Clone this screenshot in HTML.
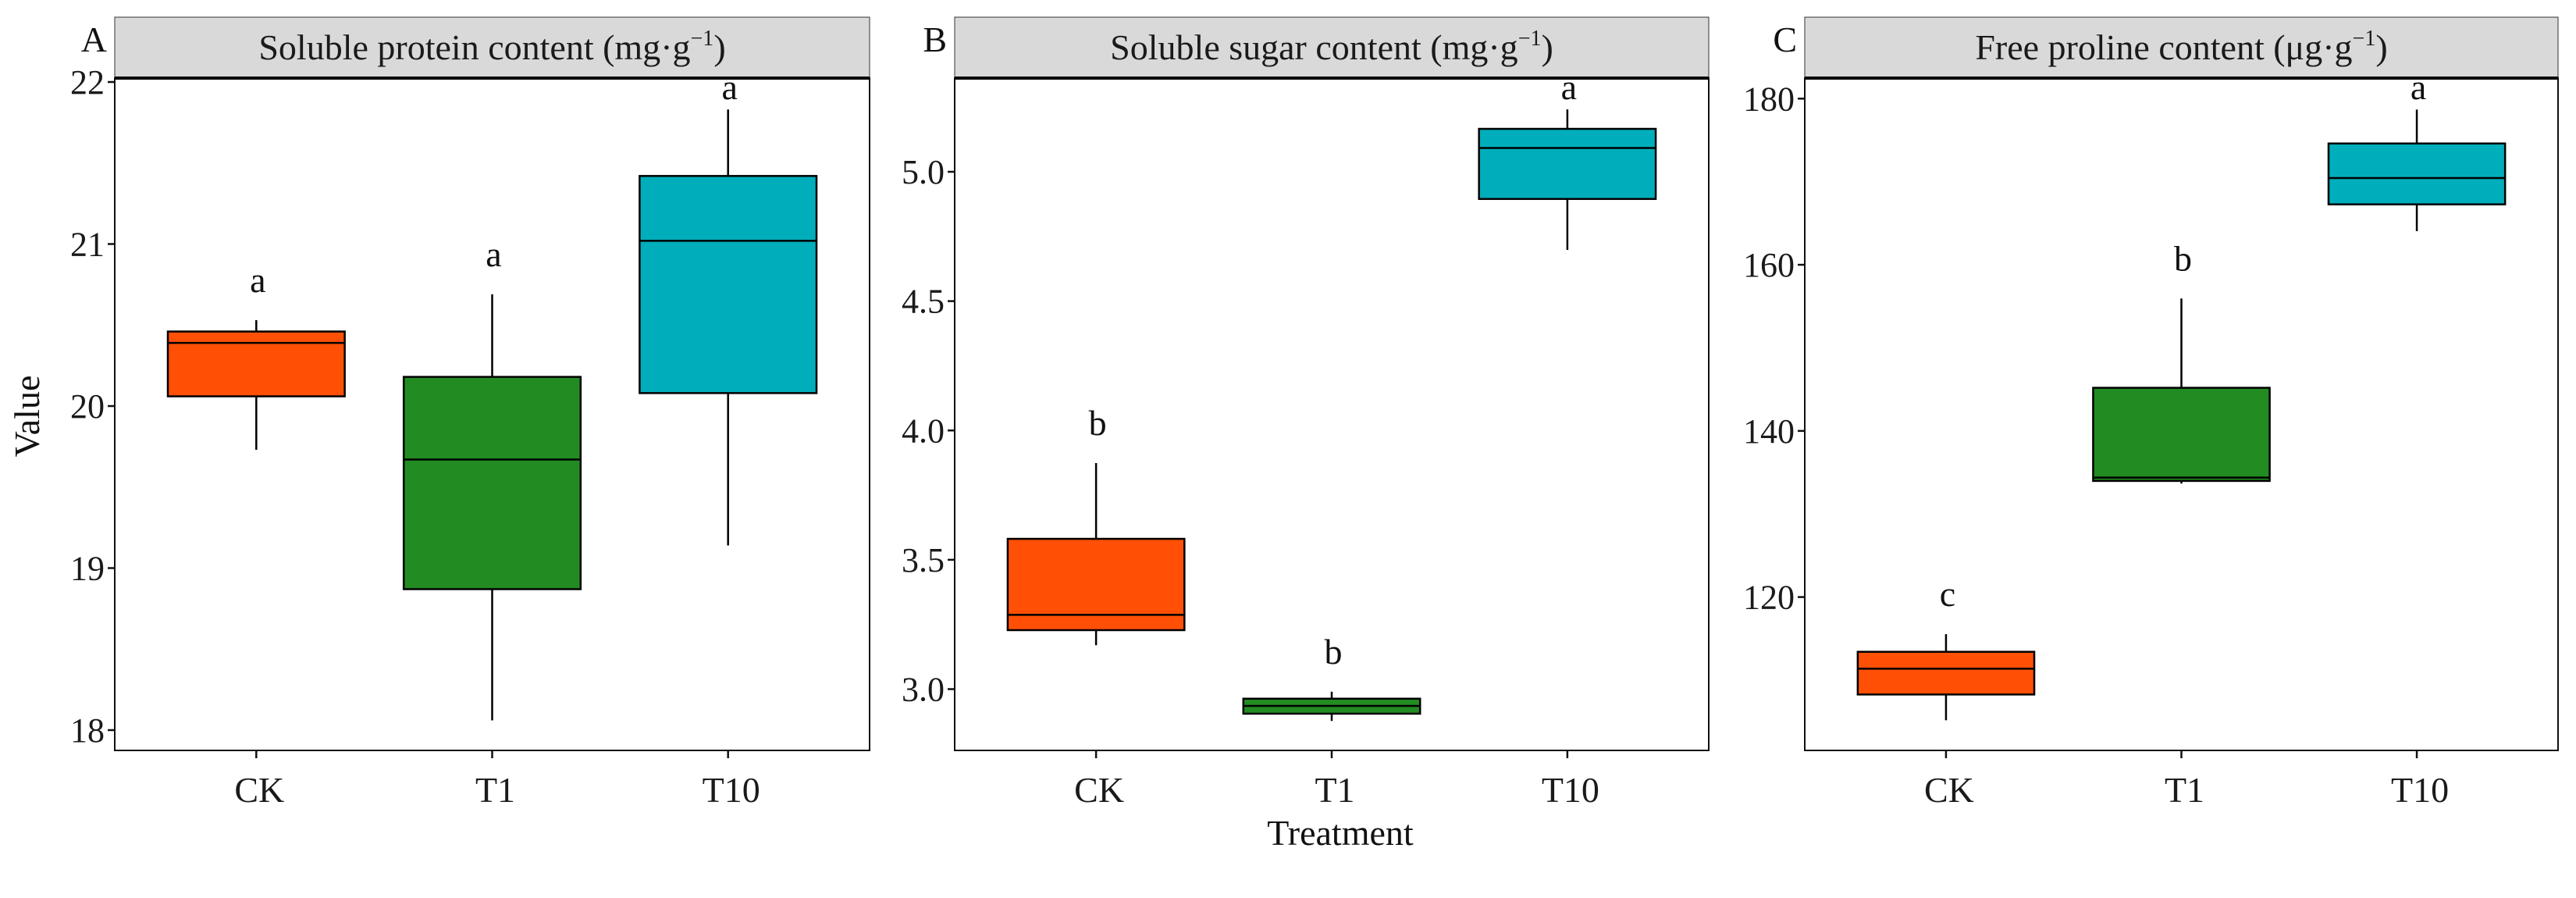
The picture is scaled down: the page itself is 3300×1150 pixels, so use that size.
<!DOCTYPE html>
<html><head><meta charset="utf-8"><style>
html,body{margin:0;padding:0;background:#fff}
svg{display:block;font-family:"Liberation Serif",serif}
</style></head><body>
<svg id="chart" width="3300" height="1150" viewBox="0 0 3300 1150" xmlns="http://www.w3.org/2000/svg"></svg>
<script>
const categories = ["CK","T1","T10"];
const colors = ["#FF5005","#228B22","#00AEBB"];
const titles = ["Soluble protein content (mg·g", "Soluble sugar content (mg·g", "Free proline content (μg·g"];
const panelLetters = ["A","B","C"];
// [lowWhisker, q1, median, q3, highWhisker] per category
const proteinStats = [[19.73,20.06,20.39,20.46,20.53],[18.06,18.87,19.67,20.18,20.69],[19.14,20.08,21.02,21.42,21.83]];
const sugarStats = [[3.170,3.228,3.287,3.581,3.874],[2.877,2.905,2.935,2.963,2.99],[4.698,4.895,5.092,5.166,5.241]];
const prolineStats = [[105.17,108.27,111.37,113.41,115.53],[133.66,133.98,134.38,145.19,155.94],[164.05,167.27,170.44,174.6,178.68]];
const proteinLetters = ["a","a","a"];
const sugarLetters = ["b","b","a"];
const prolineLetters = ["c","b","a"];
const proteinTicks = [18,19,20,21,22];
const sugarTicks = ["3.0","3.5","4.0","4.5","5.0"];
const prolineTicks = [120,140,160,180];

const NS="http://www.w3.org/2000/svg";
const svg=document.getElementById('chart');
function el(tag,attrs,parent){const e=document.createElementNS(NS,tag);for(const k in attrs)e.setAttribute(k,attrs[k]);(parent||svg).appendChild(e);return e;}

const panels=[
 {left:147,right:1114,stats:proteinStats,letters:proteinLetters,ticks:proteinTicks,v0:22,p0:105,v1:18,p1:935,name:"protein"},
 {left:1223,right:2189,stats:sugarStats,letters:sugarLetters,ticks:sugarTicks,v0:5,p0:220,v1:3,p1:882.5,name:"sugar"},
 {left:2312,right:3277,stats:prolineStats,letters:prolineLetters,ticks:prolineTicks,v0:180,p0:126.3,v1:120,p1:764.6,name:"proline"}
];
const stripTop=22, stripBot=100, plotBot=961;

panels.forEach((p,pi)=>{
  const g=el('g',{});
  
  
  const y=v=>p.p0+(p.v0-(+v))*(p.p1-p.p0)/(p.v0-p.v1);
  const w=p.right-p.left;
  const xs=i=>p.left+w*(0.6+i)/3.2;
  const bw=w*0.75/3.2;
  const strip=el('rect',{x:p.left,y:stripTop,width:w,height:stripBot-stripTop,fill:"#d9d9d9",stroke:"#333","stroke-width":1},g);
  
  
  const tt=el('text',{x:p.left+w/2,y:76,"text-anchor":"middle","font-size":"46",fill:"#1a1a1a"},g);
  
  
  tt.textContent=titles[pi];
  const sup=el('tspan',{"font-size":"28",dy:"-18"},tt);sup.textContent="−1";
  const cl=el('tspan',{"font-size":"46",dy:"18"},tt);cl.textContent=")";
  const pl=el('text',{x:p.left-10,y:66,"text-anchor":"end","font-size":"46",fill:"#111"},g);
  
  
  pl.textContent=panelLetters[pi];
  const fr=el('rect',{x:p.left,y:stripBot,width:w,height:plotBot-stripBot,fill:"none",stroke:"#111","stroke-width":2},g);
  
  
  el('line',{x1:p.left,x2:p.right,y1:stripBot,y2:stripBot,stroke:"#000","stroke-width":4},g);
  p.ticks.forEach(t=>{
    const ty=y(t);
    const tk=el('line',{x1:p.left-9,x2:p.left,y1:ty,y2:ty,stroke:"#111","stroke-width":2.5},g);
    
    
    const tl=el('text',{x:p.left-13,y:ty+15,"text-anchor":"end","font-size":"44",fill:"#1a1a1a"},g);
    
    
    tl.textContent=t;
  });
  categories.forEach((c,i)=>{
    const s=p.stats[i], cx=xs(i);
    const tk=el('line',{x1:cx,x2:cx,y1:plotBot,y2:plotBot+10,stroke:"#111","stroke-width":2.5},g);
    
    
    const xl=el('text',{x:cx+4,y:1027,"text-anchor":"middle","font-size":"46",fill:"#1a1a1a"},g);
    
    
    xl.textContent=c;
    const wh=el('line',{x1:cx,x2:cx,y1:y(s[0]),y2:y(s[4]),stroke:"#000","stroke-width":2.5},g);
    
    
    const bx=el('rect',{x:cx-bw/2,y:y(s[3]),width:bw,height:y(s[1])-y(s[3]),fill:colors[i],stroke:"#000","stroke-width":2.5},g);
    
    
    const md=el('line',{x1:cx-bw/2,x2:cx+bw/2,y1:y(s[2]),y2:y(s[2]),stroke:"#000","stroke-width":2.5},g);
    
    
    const ly=Math.max(y(s[4])-36,127);
    const lt=el('text',{x:cx+2,y:ly,"text-anchor":"middle","font-size":"46",fill:"#111"},g);
    
    
    lt.textContent=p.letters[i];
  });
});
const yt=el('text',{x:0,y:0,transform:"translate(50,533) rotate(-90)","text-anchor":"middle","font-size":"46",fill:"#111"});


yt.textContent="Value";
const xt=el('text',{x:1717,y:1082,"text-anchor":"middle","font-size":"46",fill:"#111"});


xt.textContent="Treatment";
</script>
</body></html>
